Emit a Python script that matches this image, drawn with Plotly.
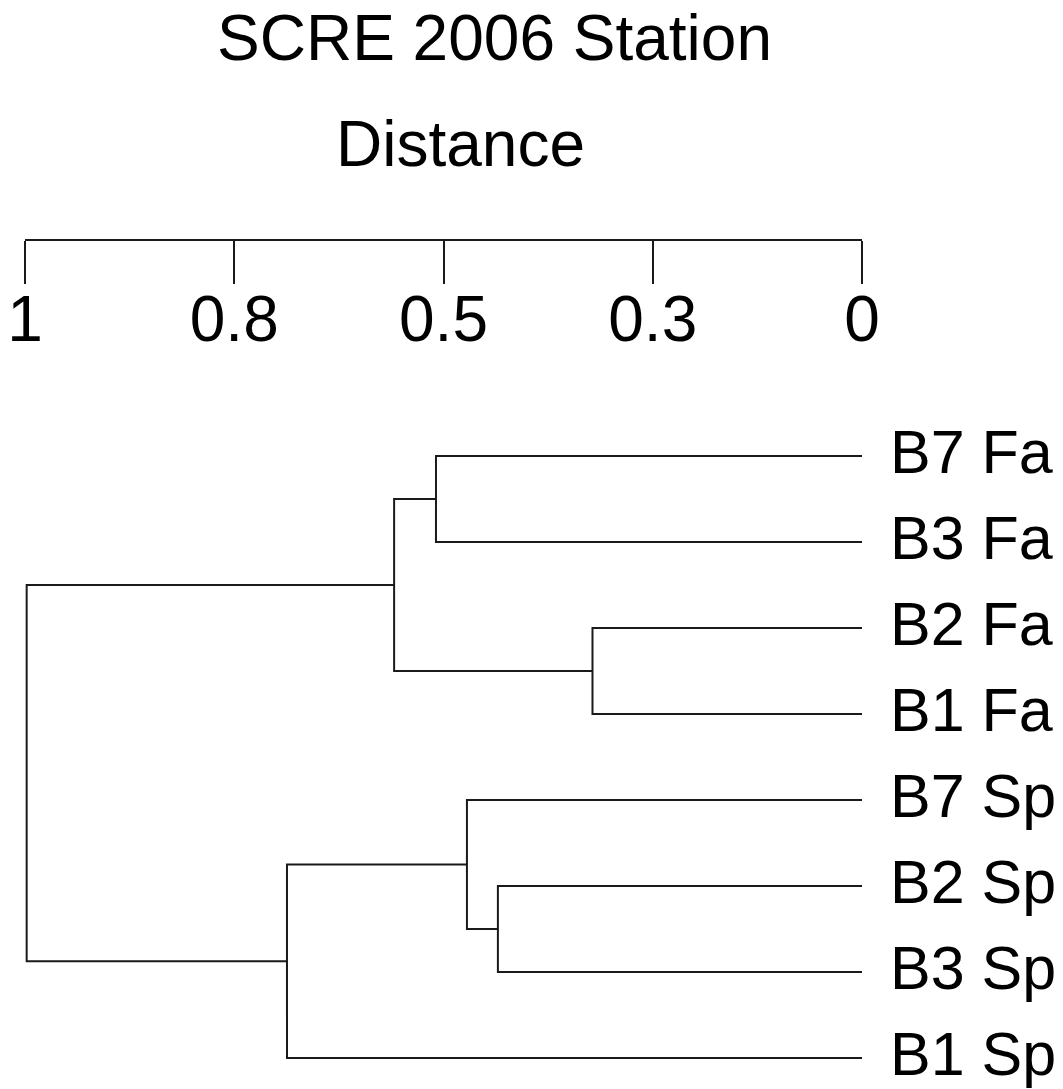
import plotly.graph_objects as go

# Leaves, top to bottom
leaf_labels = ["B7 Fa", "B3 Fa", "B2 Fa", "B1 Fa", "B7 Sp", "B2 Sp", "B3 Sp", "B1 Sp"]

# Linkage: (left node, right node, merge distance); new nodes get ids 8, 9, ...
merge_left = [0, 2, 8, 5, 4, 12, 10]
merge_right = [1, 3, 9, 6, 11, 7, 13]
merge_height = [0.509, 0.322, 0.559, 0.435, 0.472, 0.687, 0.998]

# Distance axis ticks
tick_vals = [1, 0.75, 0.5, 0.25, 0]
tick_text = ["1", "0.8", "0.5", "0.3", "0"]

FONT = "Liberation Sans, Arial, sans-serif"
W, H = 1063, 1089
LINE = "#1a1a1a"

# node positions: x = distance, y = leaf index (centre of children)
node_x = {i: 0.0 for i in range(len(leaf_labels))}
node_y = {i: float(i) for i in range(len(leaf_labels))}

xs, ys = [], []
for k, (a, b, h) in enumerate(zip(merge_left, merge_right, merge_height)):
    nid = len(leaf_labels) + k
    # elbow: child a -> h, vertical, h -> child b
    xs += [node_x[a], h, h, node_x[b], None]
    ys += [node_y[a], node_y[a], node_y[b], node_y[b], None]
    node_x[nid] = h
    node_y[nid] = (node_y[a] + node_y[b]) / 2

x_dom = [25 / W, 862 / W]
y_top_px, y_bot_px = 404.4, 1075.2
y_dom = [(H - y_bot_px) / H, (H - y_top_px) / H]

fig = go.Figure()
fig.add_trace(go.Scatter(
    x=xs, y=ys, mode="lines",
    line=dict(color=LINE, width=2),
    hoverinfo="skip", showlegend=False,
    xaxis="x", yaxis="y",
))
# carrier for the distance scale drawn above the tree
fig.add_trace(go.Scatter(
    x=[1, 0], y=[0, 0], mode="markers", marker=dict(opacity=0),
    hoverinfo="skip", showlegend=False, xaxis="x2", yaxis="y",
))

annotations = [
    dict(text="SCRE 2006 Station", x=494 / W, y=1,
         xref="paper", yref="paper", xanchor="center", yanchor="top",
         showarrow=False, font=dict(family=FONT, size=64, color="black")),
    dict(text="Distance", x=460 / W, y=1 - 144 / H,
         xref="paper", yref="paper", xanchor="center", yanchor="middle",
         showarrow=False, font=dict(family=FONT, size=64, color="black")),
]
# leaf names at the zero-distance end of each branch
for i, name in enumerate(leaf_labels):
    annotations.append(dict(
        text=name, x=0, y=i, xref="x", yref="y",
        xanchor="left", yanchor="middle", xshift=26, yshift=4,
        showarrow=False, font=dict(family=FONT, size=61, color="black"),
    ))

fig.update_layout(
    width=W, height=H,
    margin=dict(l=0, r=0, t=0, b=0),
    paper_bgcolor="white", plot_bgcolor="white",
    font=dict(family=FONT, color="black", size=63),
    xaxis=dict(
        domain=x_dom, range=[1, 0], visible=False, fixedrange=True,
        automargin=False,
    ),
    xaxis2=dict(
        domain=x_dom, range=[1, 0], overlaying="x", anchor="free",
        position=(H - 240) / H, side="bottom", automargin=False,
        tickvals=tick_vals, ticktext=tick_text,
        ticks="outside", ticklen=43, tickwidth=2, tickcolor=LINE,
        showline=True, linewidth=2, linecolor=LINE,
        showgrid=False, zeroline=False, ticklabelstandoff=-20,
        tickfont=dict(family=FONT, size=64, color="black"),
    ),
    yaxis=dict(
        domain=y_dom, range=[7.2, -0.6], anchor="x", automargin=False,
        showticklabels=False, ticks="", showline=False, showgrid=False,
        zeroline=False,
    ),
    annotations=annotations,
)

fig.write_html("out.html")
